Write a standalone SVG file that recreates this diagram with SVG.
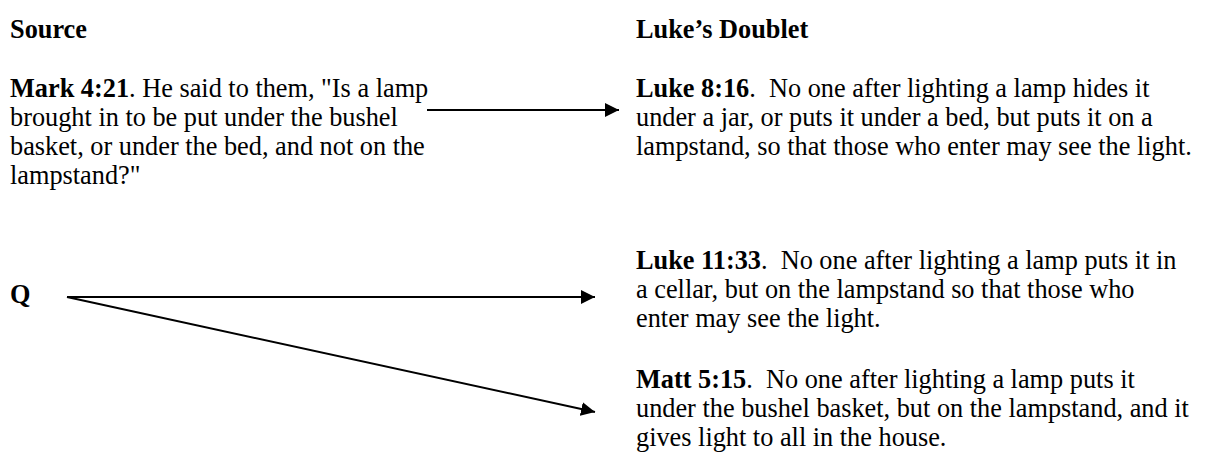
<svg xmlns="http://www.w3.org/2000/svg" width="1211" height="456" viewBox="0 0 1211 456">
  <style>
    text { font-family: "Liberation Serif", "Times New Roman", serif; font-size: 26.3px; fill: #000; white-space: pre; }
    .b { font-weight: bold; }
    .conn { stroke: #000; stroke-width: 2; fill: none; marker-end: url(#head); }
  </style>
  <defs>
    <marker id="head" viewBox="0 0 14 14" refX="14" refY="7" markerWidth="14" markerHeight="14" markerUnits="userSpaceOnUse" orient="auto">
      <path d="M0,0 L14,7 L0,14 z" fill="#000"/>
    </marker>
  </defs>
  <rect width="1211" height="456" fill="#fff"/>

  <!-- column headings -->
  <g id="heading-source">
    <text class="b" x="10" y="38">Source</text>
  </g>
  <g id="heading-doublet">
    <text class="b" x="636" y="38">Luke’s Doublet</text>
  </g>

  <!-- sources -->
  <g id="mark-4-21">
    <text x="10" y="97"><tspan class="b">Mark 4:21</tspan>. He said to them, "Is a lamp</text>
    <text x="10" y="126">brought in to be put under the bushel</text>
    <text x="10" y="155">basket, or under the bed, and not on the</text>
    <text x="10" y="184">lampstand?"</text>
  </g>
  <g id="q">
    <text class="b" x="10" y="303">Q</text>
  </g>

  <!-- doublet passages -->
  <g id="luke-8-16">
    <text x="636" y="97"><tspan class="b">Luke 8:16</tspan>.  No one after lighting a lamp hides it</text>
    <text x="636" y="126">under a jar, or puts it under a bed, but puts it on a</text>
    <text x="636" y="155">lampstand, so that those who enter may see the light.</text>
  </g>
  <g id="luke-11-33">
    <text x="636" y="269"><tspan class="b">Luke 11:33</tspan>.  No one after lighting a lamp puts it in</text>
    <text x="636" y="298">a cellar, but on the lampstand so that those who</text>
    <text x="636" y="327">enter may see the light.</text>
  </g>
  <g id="matt-5-15">
    <text x="636" y="388"><tspan class="b">Matt 5:15</tspan>.  No one after lighting a lamp puts it</text>
    <text x="636" y="417">under the bushel basket, but on the lampstand, and it</text>
    <text x="636" y="446">gives light to all in the house.</text>
  </g>

  <!-- connectors -->
  <g id="connectors">
    <line class="conn" x1="427" y1="110" x2="619" y2="110"/>
    <line class="conn" x1="67" y1="297" x2="595" y2="297"/>
    <line class="conn" x1="67" y1="297" x2="595" y2="412"/>
  </g>
</svg>
